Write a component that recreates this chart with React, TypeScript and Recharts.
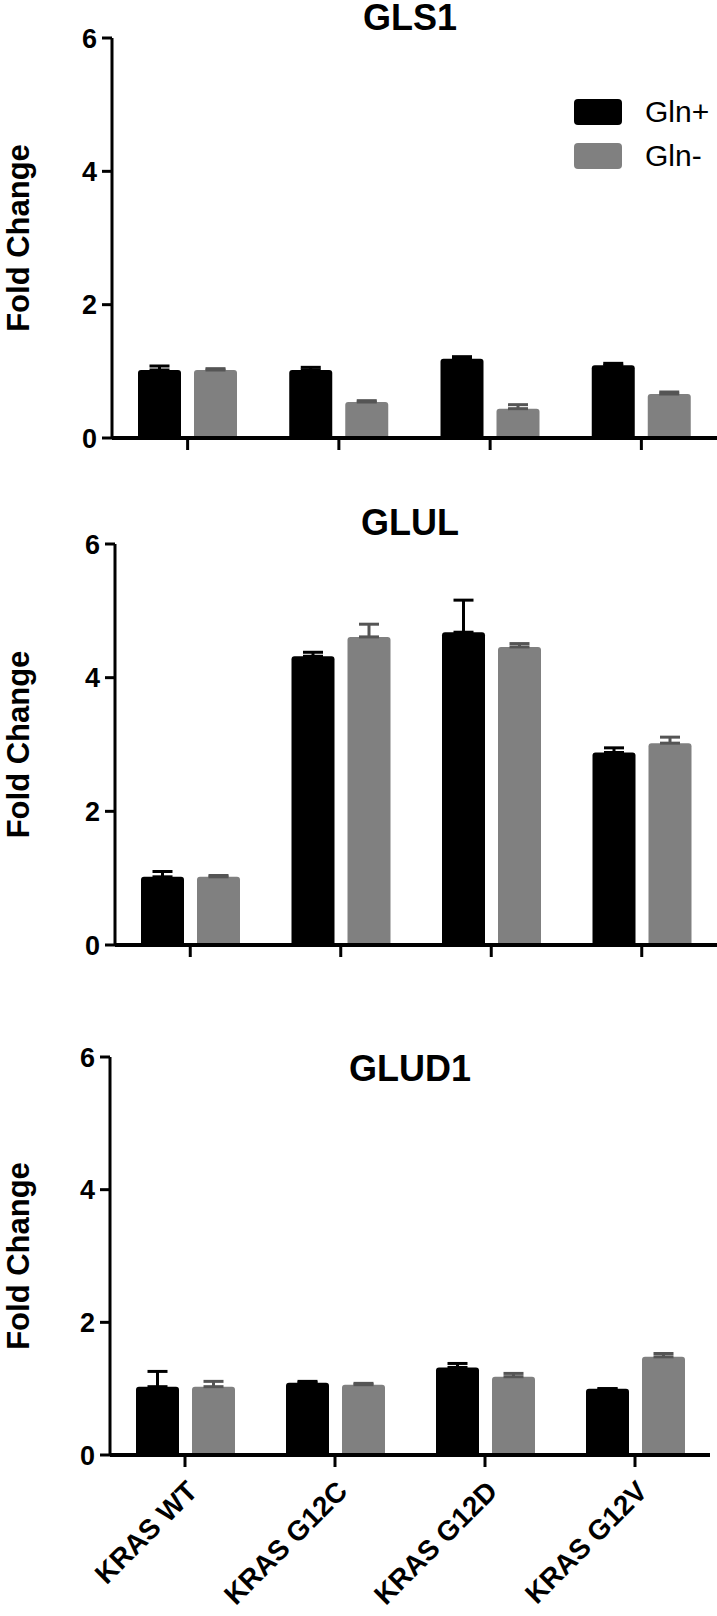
import React from 'react'
import { BarChart, Bar, XAxis, YAxis, ErrorBar, Legend } from 'recharts'

const CATEGORIES = ['KRAS WT', 'KRAS G12C', 'KRAS G12D', 'KRAS G12V']
const Y_TICKS = [0, 2, 4, 6]
const SERIES_NAMES = ['Gln+', 'Gln-']

// GLS1
const GLS1_PLUS = [1.02, 1.02, 1.19, 1.09]
const GLS1_PLUS_ERR = [0.06, 0.04, 0.03, 0.03]
const GLS1_MINUS = [1.02, 0.54, 0.44, 0.66]
const GLS1_MINUS_ERR = [0.02, 0.02, 0.06, 0.03]

// GLUL
const GLUL_PLUS = [1.02, 4.32, 4.68, 2.88]
const GLUL_PLUS_ERR = [0.08, 0.06, 0.48, 0.07]
const GLUL_MINUS = [1.02, 4.61, 4.46, 3.02]
const GLUL_MINUS_ERR = [0.02, 0.19, 0.05, 0.09]

// GLUD1
const GLUD1_PLUS = [1.03, 1.09, 1.32, 1.0]
const GLUD1_PLUS_ERR = [0.23, 0.02, 0.06, 0]
const GLUD1_MINUS = [1.03, 1.06, 1.18, 1.48]
const GLUD1_MINUS_ERR = [0.08, 0.02, 0.05, 0.05]

const FONT = '"Liberation Sans", Arial, sans-serif'
const BLACK = '#000000'
const GRAY = '#808080'
const GRAY_ERR = '#555555'

function buildData(plus: number[], plusErr: number[], minus: number[], minusErr: number[]) {
  return CATEGORIES.map((name, i) => ({
    name,
    plus: plus[i],
    plusErr: [0, plusErr[i]],
    minus: minus[i],
    minusErr: [0, minusErr[i]],
  }))
}

const PANELS = [
  {
    title: 'GLS1',
    data: buildData(GLS1_PLUS, GLS1_PLUS_ERR, GLS1_MINUS, GLS1_MINUS_ERR),
    top: 0, height: 520, marginTop: 38, marginRight: 0, yWidth: 112, xHeight: 82,
    titleY: 17, legend: true, labels: false,
  },
  {
    title: 'GLUL',
    data: buildData(GLUL_PLUS, GLUL_PLUS_ERR, GLUL_MINUS, GLUL_MINUS_ERR),
    top: 500, height: 520, marginTop: 44, marginRight: 0, yWidth: 115, xHeight: 75,
    titleY: 22, legend: false, labels: false,
  },
  {
    title: 'GLUD1',
    data: buildData(GLUD1_PLUS, GLUD1_PLUS_ERR, GLUD1_MINUS, GLUD1_MINUS_ERR),
    top: 1030, height: 586, marginTop: 27, marginRight: 7, yWidth: 110, xHeight: 161,
    titleY: 38, legend: false, labels: true,
  },
]

function AngledTick(props: any) {
  const { x, y, payload } = props
  return (
    <text
      transform={`translate(${x + 14},${y + 24}) rotate(-45)`}
      textAnchor="end"
      fontFamily={FONT}
      fontWeight="bold"
      fontSize={28}
      fill={BLACK}
    >
      {payload.value}
    </text>
  )
}

function EmptyTick() {
  return <g />
}

function FoldLabel(props: any) {
  const { viewBox } = props
  const x = 29
  const y = viewBox.y + viewBox.height / 2
  return (
    <text
      x={x}
      y={y}
      transform={`rotate(-90 ${x} ${y})`}
      textAnchor="middle"
      fontFamily={FONT}
      fontWeight="bold"
      fontSize={31}
      fill={BLACK}
    >
      Fold Change
    </text>
  )
}

function LegendBox(props: any) {
  const { payload } = props
  return (
    <div style={{ fontFamily: FONT }}>
      {(payload || []).map((entry: any) => (
        <div key={entry.value} style={{ display: 'flex', alignItems: 'center', height: 26, marginBottom: 18 }}>
          <div style={{ width: 48, height: 26, borderRadius: 4, background: entry.color }} />
          <span style={{ marginLeft: 23, fontSize: 30, lineHeight: '26px', color: BLACK }}>{entry.value}</span>
        </div>
      ))}
    </div>
  )
}

function Panel({ p }: { p: (typeof PANELS)[number] }) {
  return (
    <div style={{ position: 'absolute', left: 0, top: p.top, width: 717, height: p.height }}>
      <BarChart
        width={717}
        height={p.height}
        data={p.data}
        margin={{ top: p.marginTop, right: p.marginRight, bottom: 0, left: 0 }}
        barSize={43}
        barGap={13}
      >
        <XAxis
          dataKey="name"
          interval={0}
          height={p.xHeight}
          axisLine={{ stroke: BLACK, strokeWidth: 4 }}
          tickLine={{ stroke: BLACK, strokeWidth: 3 }}
          tickSize={12}
          tick={p.labels ? <AngledTick /> : <EmptyTick />}
        />
        <YAxis
          width={p.yWidth}
          domain={[0, 6]}
          ticks={Y_TICKS}
          interval={0}
          axisLine={{ stroke: BLACK, strokeWidth: 3 }}
          tickLine={{ stroke: BLACK, strokeWidth: 3 }}
          tickSize={10}
          tickMargin={5}
          tick={{ fontFamily: FONT, fontWeight: 'bold', fontSize: 27, fill: BLACK }}
          label={FoldLabel}
        />
        {p.legend && (
          <Legend
            layout="vertical"
            align="center"
            verticalAlign="middle"
            content={<LegendBox />}
            wrapperStyle={{ left: 574, top: 99, width: 143 }}
          />
        )}
        <Bar dataKey="plus" name={SERIES_NAMES[0]} fill={BLACK} radius={[3, 3, 0, 0]} isAnimationActive={false}>
          <ErrorBar dataKey="plusErr" direction="y" width={10} stroke={BLACK} strokeWidth={3} isAnimationActive={false} />
        </Bar>
        <Bar dataKey="minus" name={SERIES_NAMES[1]} fill={GRAY} radius={[3, 3, 0, 0]} isAnimationActive={false}>
          <ErrorBar dataKey="minusErr" direction="y" width={10} stroke={GRAY_ERR} strokeWidth={3} isAnimationActive={false} />
        </Bar>
      </BarChart>
      <div
        style={{
          position: 'absolute',
          left: 0,
          width: 820,
          top: p.titleY - 17,
          height: 36,
          lineHeight: '36px',
          textAlign: 'center',
          fontFamily: FONT,
          fontWeight: 'bold',
          fontSize: 36,
          color: BLACK,
          pointerEvents: 'none',
        }}
      >
        {p.title}
      </div>
    </div>
  )
}

export default function App() {
  return (
    <div style={{ position: 'absolute', left: 0, top: 0, width: 717, height: 1616, background: '#fff' }}>
      {PANELS.map((p) => (
        <Panel key={p.title} p={p} />
      ))}
    </div>
  )
}
